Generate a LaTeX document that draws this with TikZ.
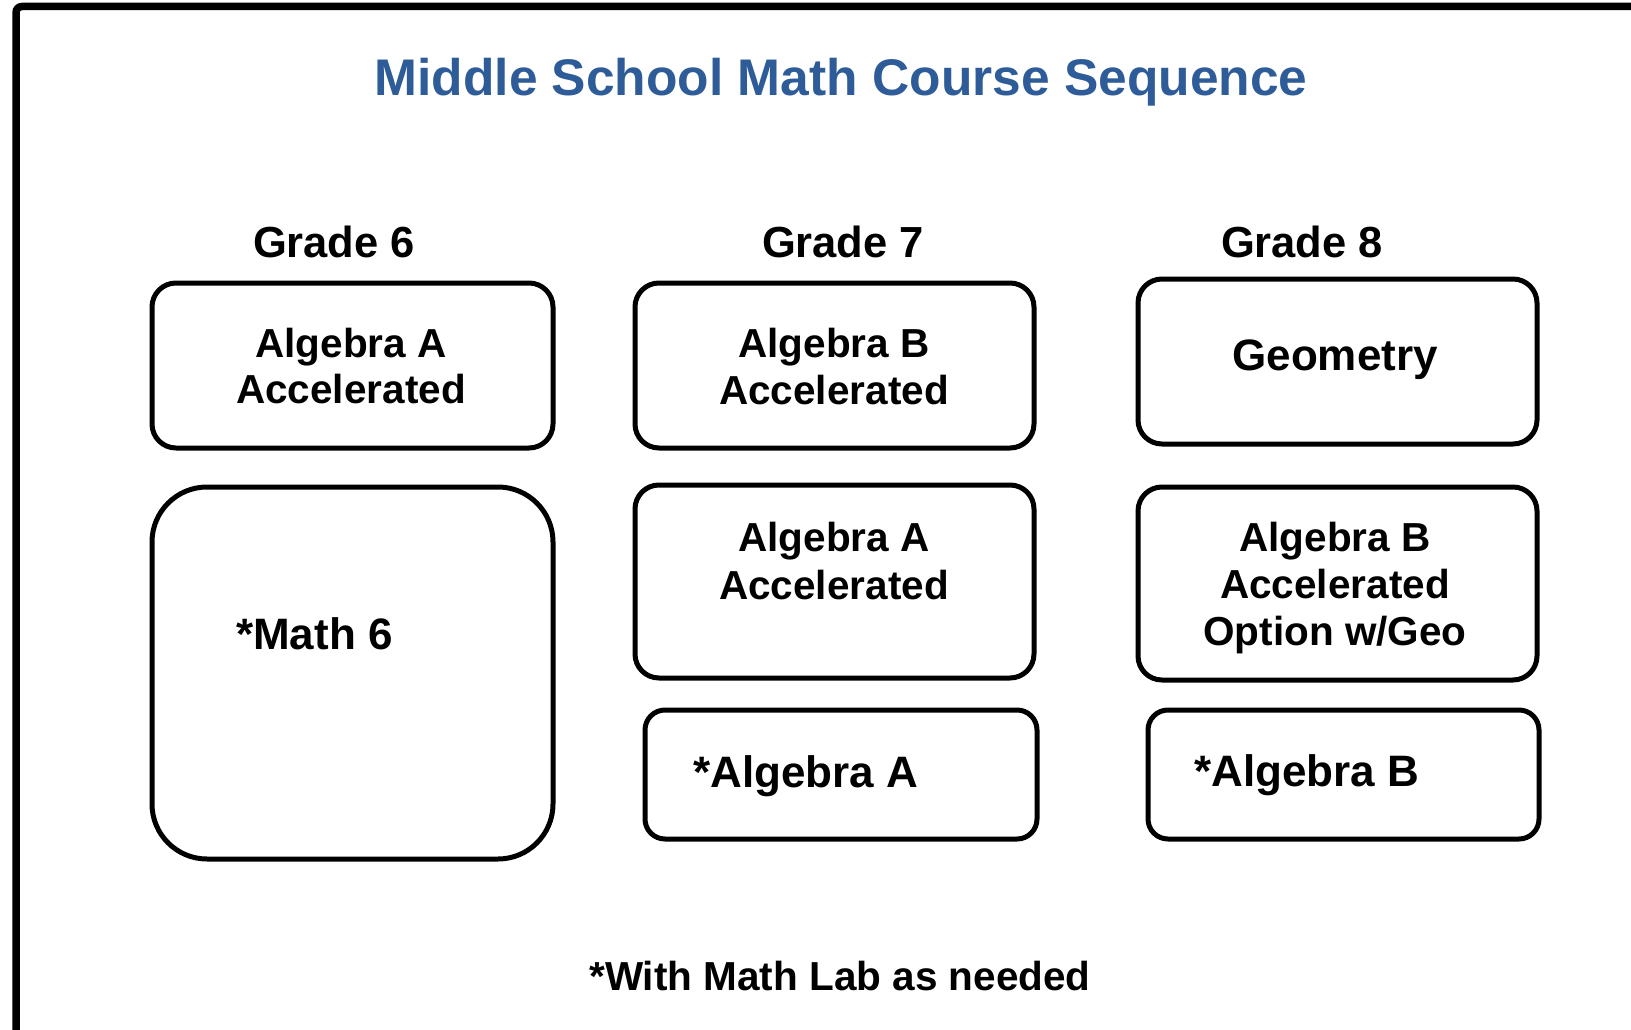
\documentclass[tikz,border=0pt]{standalone}
\usepackage{fontspec}
\setmainfont{Liberation Sans}
\definecolor{titleblue}{RGB}{46,92,152}
\begin{document}
\begin{tikzpicture}[x=1pt,y=-1pt,
  box/.style={draw=black,line width=5pt,rounded corners=#1,inner sep=0pt},
  box/.default=24pt,
  lbl/.style={inner sep=0pt,anchor=base,font=\bfseries\fontsize{40.5}{47}\selectfont,align=center},
  big/.style={inner sep=0pt,anchor=base,font=\bfseries\fontsize{44}{50}\selectfont},
  grade/.style={inner sep=0pt,anchor=base,font=\bfseries\fontsize{43.5}{50}\selectfont}]
\useasboundingbox (0,0) rectangle (1631,1030);
\fill[white] (0,0) rectangle (1631,1030);
% outer frame
\draw[line width=7.5pt,rounded corners=6pt] (16,1045) -- (16,6.5) -- (1645,6.5);
% title
\node[inner sep=0pt,anchor=base,text=titleblue,font=\bfseries\fontsize{51.5}{60}\selectfont] (title) at (841,96) {Middle School Math Course Sequence};
% grade headings
\node[grade] (g6) at (334,257) {Grade 6};
\node[grade] (g7) at (843,257) {Grade 7};
\node[grade] (g8) at (1302,257) {Grade 8};
% boxes
\draw[box] (152,283) rectangle (553,448);
\draw[box=55pt] (152,487) rectangle (553,859);
\draw[box] (635,283) rectangle (1034,448);
\draw[box] (635,485) rectangle (1034,678);
\draw[box=20pt] (645,710) rectangle (1037,839);
\draw[box] (1138,279) rectangle (1537,444);
\draw[box] (1138,487) rectangle (1537,680);
\draw[box=20pt] (1148,710) rectangle (1539,839);
% texts
\node[lbl] (t1a) at (351,357) {Algebra A};
\node[lbl] (t1b) at (351,403) {Accelerated};
\node[big,anchor=base west] (t2) at (236,649) {*Math 6};
\node[lbl] (t3a) at (834,357) {Algebra B};
\node[lbl] (t3b) at (834,404) {Accelerated};
\node[lbl] (t4a) at (834,551) {Algebra A};
\node[lbl] (t4b) at (834,599) {Accelerated};
\node[big,anchor=base west] (t5) at (693,787) {*Algebra A};
\node[big] (t6) at (1335,370) {Geometry};
\node[lbl] (t7a) at (1335,551) {Algebra B};
\node[lbl] (t7b) at (1335,598) {Accelerated};
\node[lbl] (t7c) at (1335,645) {Option w/Geo};
\node[big,anchor=base west] (t8) at (1194,786) {*Algebra B};
\node[lbl] (foot) at (840,990) {*With Math Lab as needed};
\end{tikzpicture}
\end{document}
